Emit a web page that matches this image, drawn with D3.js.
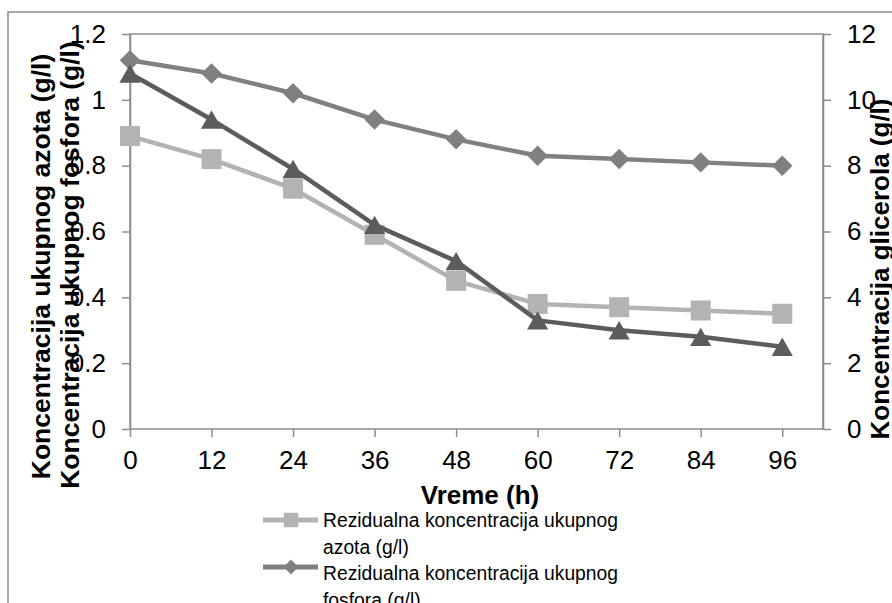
<!DOCTYPE html>
<html>
<head>
<meta charset="utf-8">
<script src="https://cdn.jsdelivr.net/npm/d3@7"></script>
<style>
  html, body { margin: 0; padding: 0; background: #fff; }
  svg { display: block; font-family: "Liberation Sans", Arial, sans-serif; }
</style>
</head>
<body>
<svg id="chart" width="892" height="603"></svg>
<script>
// ---- data ----
const categories = [0, 12, 24, 36, 48, 60, 72, 84, 96];
const nitrogen   = [0.89, 0.82, 0.73, 0.59, 0.45, 0.38, 0.37, 0.36, 0.35];   // left axis
const phosphorus = [1.12, 1.08, 1.02, 0.94, 0.88, 0.83, 0.82, 0.81, 0.80];   // left axis
const glycerol   = [10.8, 9.4, 7.9, 6.2, 5.1, 3.3, 3.0, 2.8, 2.5];          // right axis
const leftTicks  = [0, 0.2, 0.4, 0.6, 0.8, 1, 1.2];
const rightTicks = [0, 2, 4, 6, 8, 10, 12];
const xTitle = "Vreme (h)";
const leftTitles = ["Koncentracija ukupnog azota (g/l)", "Koncentracija ukupnog fosfora (g/l)"];
const rightTitle = "Koncentracija glicerola (g/l)";
const legendLines = [
  ["Rezidualna koncentracija ukupnog", "azota (g/l)"],
  ["Rezidualna koncentracija ukupnog", "fosfora (g/l)"]
];

// ---- layout ----
const svg = d3.select("#chart");
const P = { left: 130, right: 823, top: 34, bottom: 429 };
const axisColor = "#8c8c8c";
const colLight = "#b3b3b3", colMid = "#808080", colDark = "#5c5c5c";

svg.append("rect").attr("width", 892).attr("height", 603).attr("fill", "#fff");
// outer chart border (extends past the viewport)
svg.append("rect").attr("x", 8).attr("y", 12).attr("width", 950).attr("height", 700)
  .attr("fill", "none").attr("stroke", axisColor).attr("stroke-width", 1.5);

const step = (P.right - P.left) / 8.5;
const x = d3.scalePoint().domain(categories).range([P.left, P.left + step * 8]);
const yL = d3.scaleLinear().domain([0, 1.2]).range([P.bottom, P.top]);
const yR = d3.scaleLinear().domain([0, 12]).range([P.bottom, P.top]);

// plot frame
svg.append("rect").attr("x", P.left).attr("y", P.top)
  .attr("width", P.right - P.left).attr("height", P.bottom - P.top)
  .attr("fill", "none").attr("stroke", axisColor).attr("stroke-width", 1.5);

function styleAxis(g) {
  g.select(".domain").attr("stroke", axisColor).attr("stroke-width", 1.5);
  g.selectAll(".tick line").attr("stroke", axisColor).attr("stroke-width", 1.5);
  g.selectAll(".tick text").attr("fill", "#000")
    .style("font-size", "26px").style("font-family", '"Liberation Sans", Arial, sans-serif');
}

svg.append("g").attr("transform", `translate(${P.left},0)`)
  .call(d3.axisLeft(yL).tickValues(leftTicks).tickSize(8).tickSizeOuter(0).tickPadding(16).tickFormat(d => String(d)))
  .call(styleAxis);

svg.append("g").attr("transform", `translate(${P.right},0)`)
  .call(d3.axisRight(yR).tickValues(rightTicks).tickSize(8).tickSizeOuter(0).tickPadding(16).tickFormat(d => String(d)))
  .call(styleAxis);

svg.append("g").attr("transform", `translate(0,${P.bottom})`)
  .call(d3.axisBottom(x).tickSize(8).tickSizeOuter(0).tickPadding(14))
  .call(styleAxis)
  .call(g => g.select(".domain").remove());

// ---- titles ----
svg.append("text").attr("x", 480).attr("y", 504).attr("text-anchor", "middle")
  .style("font-size", "26px").style("font-weight", "bold").text(xTitle);
svg.append("text").attr("transform", "translate(49.5,266.5) rotate(-90)").attr("text-anchor", "middle")
  .style("font-size", "26.5px").style("font-weight", "bold").text(leftTitles[0]);
svg.append("text").attr("transform", "translate(79,265) rotate(-90)").attr("text-anchor", "middle")
  .style("font-size", "26.5px").style("font-weight", "bold").text(leftTitles[1]);
svg.append("text").attr("transform", "translate(889,269) rotate(-90)").attr("text-anchor", "middle")
  .style("font-size", "26px").style("font-weight", "bold").text(rightTitle);

// ---- markers ----
const triBox = {
  draw(ctx, size) {
    const w = Math.sqrt(size * 4 / Math.sqrt(3));
    const h = w * Math.sqrt(3) / 2;
    ctx.moveTo(0, -h / 2);
    ctx.lineTo(w / 2, h / 2);
    ctx.lineTo(-w / 2, h / 2);
    ctx.closePath();
  }
};
const diamond = {
  draw(ctx, size) {
    const r = Math.sqrt(size) / 2;
    ctx.moveTo(0, -r); ctx.lineTo(r, 0); ctx.lineTo(0, r); ctx.lineTo(-r, 0); ctx.closePath();
  }
};
const series = [
  { values: nitrogen,   y: yL, color: colLight, symbol: d3.symbolSquare, size: 400 },
  { values: phosphorus, y: yL, color: colMid,   symbol: diamond,         size: 420 },
  { values: glycerol,   y: yR, color: colDark,  symbol: triBox,          size: 195 }
];

series.forEach(s => {
  const pts = categories.map((c, i) => [x(c), s.y(s.values[i])]);
  svg.append("path").datum(pts)
    .attr("d", d3.line())
    .attr("fill", "none").attr("stroke", s.color).attr("stroke-width", 4.5)
    .attr("stroke-linejoin", "round");
  svg.append("g").selectAll("path").data(pts).join("path")
    .attr("transform", d => `translate(${d[0]},${d[1]})`)
    .attr("d", d3.symbol().type(s.symbol).size(s.size))
    .attr("fill", s.color);
});

// ---- legend ----
const legendSeries = series.slice(0, 2);
const leg = svg.append("g");
legendSeries.forEach((s, i) => {
  const cy = 520 + i * 47;
  leg.append("line").attr("x1", 263).attr("x2", 318).attr("y1", cy).attr("y2", cy)
    .attr("stroke", s.color).attr("stroke-width", 5);
  leg.append("path").attr("transform", `translate(291,${cy})`)
    .attr("d", d3.symbol().type(s.symbol).size(s.symbol === diamond ? 220 : 210))
    .attr("fill", s.color);
  const t = leg.append("text")
    .attr("transform", `translate(323,${527 + i * 53}) scale(0.92,1)`)
    .style("font-size", "21px").attr("fill", "#000");
  legendLines[i].forEach((ln, j) => {
    t.append("tspan").attr("x", 0).attr("dy", j === 0 ? 0 : 27).text(ln);
  });
});
</script>
</body>
</html>
